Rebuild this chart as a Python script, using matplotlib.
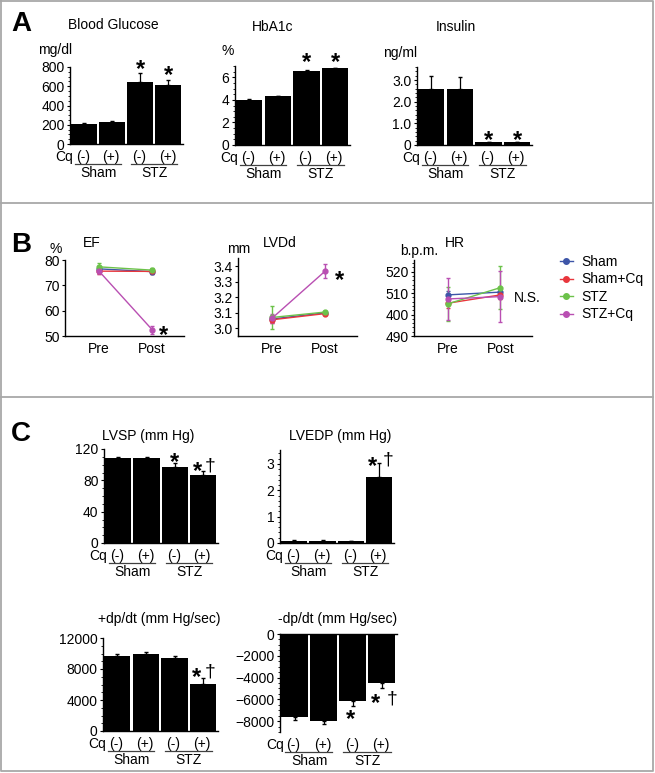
import matplotlib
matplotlib.use('Agg')
import matplotlib.pyplot as plt
from matplotlib.lines import Line2D
from matplotlib.ticker import MultipleLocator
from matplotlib.transforms import offset_copy

plt.rcParams['font.family'] = ['Liberation Sans', 'DejaVu Sans']
plt.rcParams['font.size'] = 10

# ---- data ----
cq_labels = ['(-)', '(+)', '(-)', '(+)']
pairs = ['Sham', 'STZ']

glucose = [212, 229, 648, 618]
glucose_err = [10, 12, 85, 45]
hba1c = [4.0, 4.3, 6.6, 6.8]
hba1c_err = [0.06, 0.06, 0.06, 0.06]
insulin = [2.58, 2.58, 0.12, 0.12]
insulin_err = [0.6, 0.55, 0.03, 0.03]

times = ['Pre', 'Post']
groups = ['Sham', 'Sham+Cq', 'STZ', 'STZ+Cq']
colors = ['#3d55a8', '#e8363c', '#6cc24a', '#b94fb2']
ef_pre = [76.5, 75.6, 77.3, 75.6]
ef_post = [75.4, 75.5, 76.0, 52.5]
ef_err_pre = [1.0, 1.0, 1.5, 1.0]
ef_err_post = [1.0, 1.0, 1.0, 1.6]
lvdd_pre = [3.06, 3.055, 3.07, 3.065]
lvdd_post = [3.10, 3.095, 3.105, 3.37]
lvdd_err_pre = [0.02, 0.02, 0.075, 0.03]
lvdd_err_post = [0.01, 0.01, 0.01, 0.045]
hr_pre = [509.2, 505.3, 505.0, 507.3]
hr_post = [510.5, 509.2, 512.6, 508.4]
hr_err_pre = [2, 2, 8, 10]
hr_err_post = [2, 2, 10, 12]
hr_ticks = [490, 500, 510, 520]
hr_ticklabels = ['490', '400', '510', '520']

lvsp = [108.5, 108.5, 97.3, 87.4]
lvsp_err = [1.5, 1.5, 4.2, 5.0]
lvedp = [0.08, 0.08, 0.06, 2.52]
lvedp_err = [0.02, 0.02, 0.02, 0.51]
dpdt_pos = [9650, 9950, 9450, 6050]
dpdt_pos_err = [300, 270, 250, 820]
dpdt_neg = [-7620, -7980, -6180, -4480]
dpdt_neg_err = [270, 320, 460, 520]

W, H = 655, 773
fig = plt.figure(figsize=(W / 100, H / 100), dpi=100)


def fx(x):
    return x / W


def fy(y):
    return 1 - y / H


def axes_px(x0, y0, x1, y1):
    return fig.add_axes([fx(x0), fy(y1), (x1 - x0) / W, (y1 - y0) / H])


def label(x, y, s, **kw):
    kw.setdefault('ha', 'center')
    fig.text(fx(x), fy(y), s, va='center', **kw)


def mark(ax, x, y, s, dx=0, dy=0):
    # dy in pixels, positive = up; '*' glyph sits high in its box
    if s == '*':
        size, corr, weight = 17, -6, 'bold'
    else:
        size, corr, weight = 14, 0, 'normal'
    ax.annotate(s, (x, y), xytext=(dx, dy + corr), textcoords='offset pixels',
                ha='center', va='center', fontsize=size, fontweight=weight,
                annotation_clip=False)


def style_axes(ax, major, minor=None):
    for sp in ['top', 'right']:
        ax.spines[sp].set_visible(False)
    for sp in ['left', 'bottom']:
        ax.spines[sp].set_linewidth(1.0)
    ax.yaxis.set_major_locator(MultipleLocator(major))
    if minor:
        ax.yaxis.set_minor_locator(MultipleLocator(minor))
    ax.tick_params(axis='y', which='major', length=2.5, width=0.8, pad=1.5)
    ax.tick_params(axis='y', which='minor', length=1.3, width=0.6)


def cq_row(ax):
    for i, g in enumerate(cq_labels):
        ax.annotate(g, xy=(i, 0), xycoords=('data', 'axes fraction'), xytext=(-1, -13),
                    textcoords='offset pixels', ha='center', va='center')
    ax.annotate('Cq', xy=(0, 0), xycoords=('data', 'axes fraction'), xytext=(-11, -13),
                textcoords='offset pixels', ha='right', va='center')
    tr = offset_copy(ax.get_xaxis_transform(), fig=fig, y=-20, units='dots')
    for j, p in enumerate(pairs):
        ax.plot([2 * j - 0.32, 2 * j + 1.3], [0, 0], color='0.25', lw=0.9,
                transform=tr, clip_on=False)
        ax.annotate(p, xy=(2 * j + 0.5, 0), xycoords=('data', 'axes fraction'), xytext=(0, -29),
                    textcoords='offset pixels', ha='center', va='center')


def bar_panel(ax, vals, errs, ylim, major, minor, negative=False):
    x = range(len(vals))
    ax.bar(x, vals, width=0.92, color='black')
    if negative:
        yerr = [errs, [0] * len(errs)]
    else:
        yerr = [[0] * len(errs), errs]
    ax.errorbar(x, vals, yerr=yerr, fmt='none', ecolor='black', elinewidth=0.9, capsize=1.5)
    ax.set_xlim(-0.5, 3.52)
    ax.set_ylim(*ylim)
    style_axes(ax, major, minor)
    ax.set_xticks([])
    if negative:
        ax.spines['bottom'].set_visible(False)
        ax.spines['top'].set_visible(True)
        ax.spines['top'].set_linewidth(1.0)
    cq_row(ax)


def line_panel(ax, pre, post, err_pre, err_post, ylim):
    for k in range(4):
        ax.errorbar([0, 1], [pre[k], post[k]], yerr=[err_pre[k], err_post[k]], color=colors[k],
                    marker='o', ms=3.5, lw=1.0, elinewidth=1.0, capsize=1.2)
    ax.set_xticks([0, 1], times)
    ax.tick_params(axis='x', length=0, pad=4)
    ax.set_xlim(-0.64, 1.6)
    ax.set_ylim(*ylim)


# ---- panel A ----
ax = axes_px(70, 67, 183, 144)
bar_panel(ax, glucose, glucose_err, (0, 800), 200, 50)
ax.set_yticks([0, 200, 400, 600, 800])
mark(ax, 2, glucose[2] + glucose_err[2], '*', dy=10)
mark(ax, 3, glucose[3] + glucose_err[3], '*', dy=11)

ax = axes_px(235, 66, 350, 145)
bar_panel(ax, hba1c, hba1c_err, (0, 7), 2, 0.5)
mark(ax, 2, 7, '*', dy=9)
mark(ax, 3, 7, '*', dy=9)

ax = axes_px(417, 67, 532, 145)
bar_panel(ax, insulin, insulin_err, (0, 3.6), 1, 0.2)
ax.set_yticks([0, 1, 2, 3], ['0', '1.0', '2.0', '3.0'])
mark(ax, 2, insulin[2], '*', dy=8)
mark(ax, 3, insulin[3], '*', dy=8)

label(68, 25, 'Blood Glucose', ha='left')
label(252, 27, 'HbA1c', ha='left')
label(436, 27, 'Insulin', ha='left')
label(38, 50, 'mg/dl', ha='left')
label(222, 51, '%', ha='left')
label(383, 53, 'ng/ml', ha='left')

# ---- panel B ----
ax = axes_px(65, 260, 184, 336)
line_panel(ax, ef_pre, ef_post, ef_err_pre, ef_err_post, (50, 80))
style_axes(ax, 10)
mark(ax, 1, ef_post[3], '*', dx=11)

ax = axes_px(238, 258, 357, 336)
line_panel(ax, lvdd_pre, lvdd_post, lvdd_err_pre, lvdd_err_post, (2.95, 3.455))
style_axes(ax, 0.1)
ax.set_yticks([3.0, 3.1, 3.2, 3.3, 3.4])
mark(ax, 1, lvdd_post[3], '*', dx=14, dy=-3)

ax = axes_px(414, 260, 532, 336)
line_panel(ax, hr_pre, hr_post, hr_err_pre, hr_err_post, (490, 525.5))
style_axes(ax, 10, 2)
ax.set_yticks(hr_ticks, hr_ticklabels)
label(527, 298, 'N.S.')

handles = [Line2D([], [], color=c, marker='o', ms=4, lw=1.0) for c in colors]
fig.legend(handles, groups, loc='upper left', bbox_to_anchor=(fx(560), fy(255)),
           frameon=False, handlelength=0.9, handletextpad=0.6, labelspacing=0.25,
           borderpad=0, borderaxespad=0)

label(50, 249, '%', ha='left')
label(83, 243, 'EF', ha='left')
label(227, 249, 'mm', ha='left')
label(263, 243, 'LVDd', ha='left')
label(400, 251, 'b.p.m.', ha='left')
label(445, 243, 'HR', ha='left')

# ---- panel C ----
ax = axes_px(104, 449, 218, 543)
bar_panel(ax, lvsp, lvsp_err, (0, 120), 40, 10)
mark(ax, 2, lvsp[2] + lvsp_err[2], '*', dy=7)
mark(ax, 3, lvsp[3] + lvsp_err[3], '*', dx=-6, dy=5)
mark(ax, 3, lvsp[3] + lvsp_err[3], '†', dx=7, dy=5)

ax = axes_px(280, 450, 394, 543)
bar_panel(ax, lvedp, lvedp_err, (0, 3.53), 1, 0.2)
mark(ax, 3, lvedp[3] + lvedp_err[3], '*', dx=-7, dy=3)
mark(ax, 3, lvedp[3] + lvedp_err[3], '†', dx=9, dy=3)

ax = axes_px(103, 638, 218, 731)
bar_panel(ax, dpdt_pos, dpdt_pos_err, (0, 12000), 4000, 1000)
mark(ax, 3, dpdt_pos[3] + dpdt_pos_err[3], '*', dx=-7, dy=6)
mark(ax, 3, dpdt_pos[3] + dpdt_pos_err[3], '†', dx=7, dy=6)

ax = axes_px(280, 634, 397, 732)
bar_panel(ax, dpdt_neg, dpdt_neg_err, (-9000, 0), 2000, 500, negative=True)
ax.set_yticks([-8000, -6000, -4000, -2000, 0])
mark(ax, 2, dpdt_neg[2] - dpdt_neg_err[2], '*', dx=-2, dy=-7)
mark(ax, 3, dpdt_neg[3] - dpdt_neg_err[3], '*', dx=-6, dy=-9)
mark(ax, 3, dpdt_neg[3] - dpdt_neg_err[3], '†', dx=10, dy=-11)

label(148, 436, 'LVSP (mm Hg)')
label(340, 436, 'LVEDP (mm Hg)')
label(159, 619, '+dp/dt (mm Hg/sec)')
label(338, 619, '-dp/dt (mm Hg/sec)')

# ---- panel letters and frames ----
for s, y in [('A', 24), ('B', 245), ('C', 434)]:
    label(21, y, s, fontsize=20, fontweight='bold')

frame = dict(color='#a8a8a8', lw=1.3, transform=fig.transFigure, clip_on=False)
fig.add_artist(Line2D([fx(1), fx(653), fx(653), fx(1), fx(1)],
                      [fy(0.5), fy(0.5), fy(771), fy(771), fy(0.5)], **frame))
fig.add_artist(Line2D([fx(1), fx(653)], [fy(203), fy(203)], **frame))
fig.add_artist(Line2D([fx(1), fx(653)], [fy(397), fy(397)], **frame))

fig.savefig('out.png', dpi=100)
